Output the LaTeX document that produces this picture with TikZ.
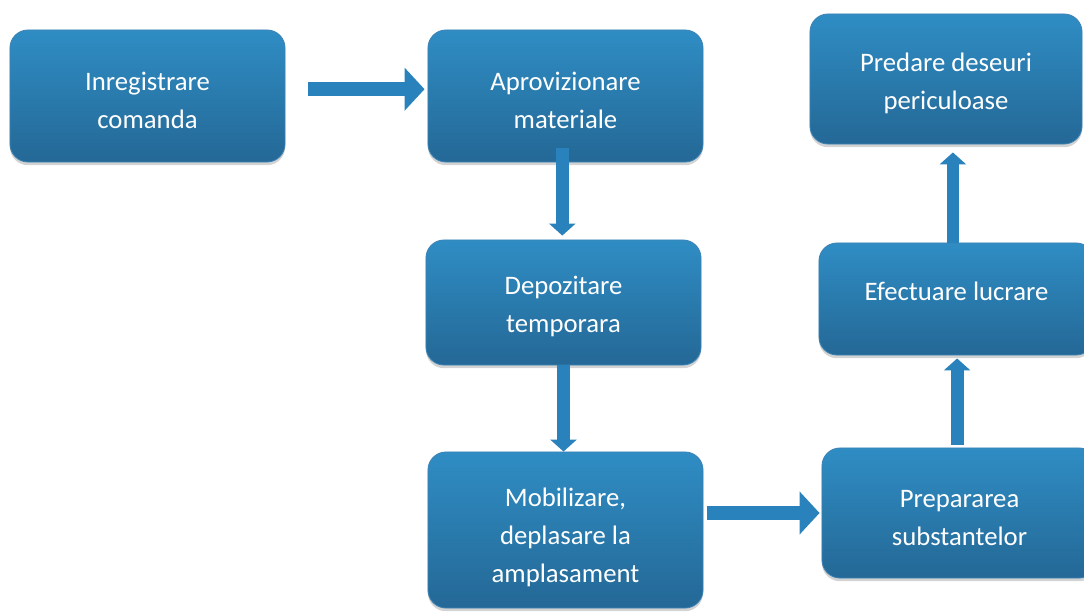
\documentclass[tikz,border=0pt]{standalone}
\usepackage{fontspec}
\setmainfont{Carlito}
\usetikzlibrary{arrows.meta,shadows}

\definecolor{boxtop}{RGB}{47,141,196}
\definecolor{boxbottom}{RGB}{36,104,150}
\definecolor{boxline}{RGB}{60,130,180}
\definecolor{arrowblue}{RGB}{42,130,188}

\tikzset{
  stepbox/.style={rounded corners=0.45cm, top color=boxtop, bottom color=boxbottom,
    draw=boxline, line width=0.6pt, text=white, align=center,
    font=\fontsize{19}{27}\selectfont, minimum width=6.875cm,
    drop shadow={opacity=0.35, shadow xshift=0pt, shadow yshift=-0.08cm}},
  harrow/.style={draw=arrowblue, line width=0.35cm,
    -{Triangle[width=1.05cm,length=0.5cm]}},
  varrow/.style={draw=arrowblue, line width=0.32cm,
    -{Triangle[width=0.65cm,length=0.3cm]}}
}

\begin{document}
\begin{tikzpicture}[x=0.025cm,y=-0.025cm]
\useasboundingbox (0,0) rectangle (1084,611);
% process boxes
\node[stepbox, minimum height=3.3cm] (reg) at (147.5,96) {\strut Inregistrare\\comanda};
\node[stepbox, minimum height=3.3cm] (aprov) at (565.5,96) {\strut Aprovizionare\\materiale};
\node[stepbox, minimum height=3.125cm] (depoz) at (563.5,302.5) {\strut Depozitare\\temporara};
\node[stepbox, minimum height=3.9cm] (mobil) at (565.5,530) {\rule{0pt}{0.85cm}Mobilizare,\\deplasare la\\amplasament};
\node[stepbox, minimum height=3.25cm] (prep) at (959.5,513) {\strut Prepararea\\substantelor};
\node[stepbox, minimum height=2.8cm] (efect) at (956.5,299) {Efectuare lucrare\\[-0.55cm]};
\node[stepbox, minimum width=6.8cm, minimum height=3.25cm] (pred) at (946,79) {\strut Predare deseuri\\periculoase};

% connectors
\draw[harrow, shorten <=0.575cm, shorten >=0.075cm] ([yshift=0.17cm]reg.east) -- ([yshift=0.17cm]aprov.west);
\draw[varrow, shorten <=-0.35cm, shorten >=0.1cm] ([xshift=-0.08cm]aprov.south) -- ([xshift=-0.08cm]aprov.south |- depoz.north);
\draw[varrow] (depoz.south) -- (depoz.south |- mobil.north);
\draw[harrow, shorten <=0.1cm, shorten >=0.05cm] (mobil.east |- prep.west) -- (prep.west);
\draw[varrow, shorten <=0.075cm, shorten >=0.075cm] ([xshift=-0.06cm]prep.north) -- ([xshift=-0.06cm]prep.north |- efect.south);
\draw[varrow, shorten >=0.2cm] ([xshift=-0.09cm]efect.north) -- ([xshift=-0.09cm]efect.north |- pred.south);
\end{tikzpicture}
\end{document}
